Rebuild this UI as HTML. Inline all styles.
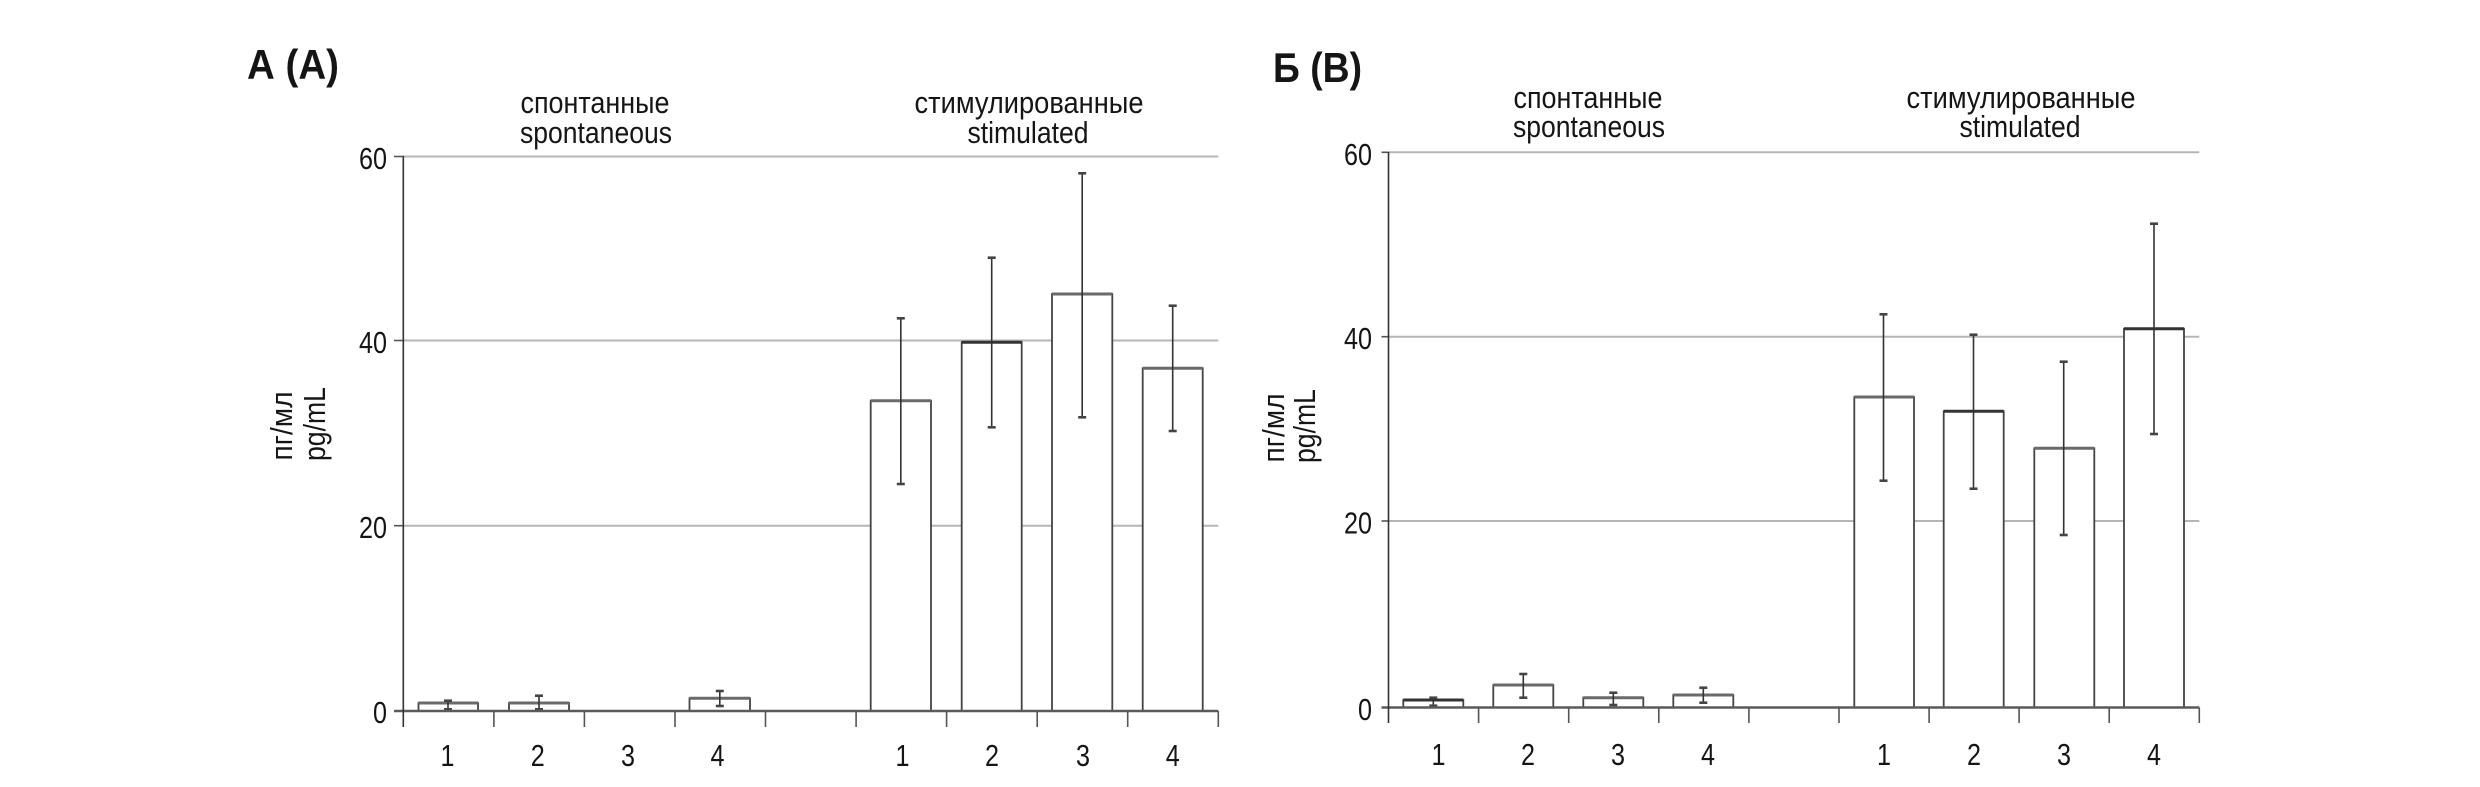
<!DOCTYPE html>
<html>
<head>
<meta charset="utf-8">
<style>
  html, body { margin: 0; padding: 0; background: #ffffff; }
  svg { display: block; }
  text { font-family: "Liberation Sans", "DejaVu Sans", sans-serif; fill: #151515; }
  .t { font-size: 31px; }
  .title { font-size: 42px; font-weight: bold; }
  .grid { stroke: #b5b5b5; stroke-width: 2; }
  .zero { stroke: #5a5a5a; stroke-width: 2.5; }
  .axis { stroke: #333; stroke-width: 1.6; }
  .tick { stroke: #555; stroke-width: 1.6; }
  .bar { fill: #fff; stroke: #444; stroke-width: 1.8; }
  .bartop { stroke: #6a6a6a; stroke-width: 3; }
  .err { stroke: #333; stroke-width: 1.6; }
  .cap { stroke: #444; stroke-width: 2.6; }
</style>
</head>
<body>
<svg width="2480" height="787" viewBox="0 0 2480 787" xmlns="http://www.w3.org/2000/svg">
  <rect x="0" y="0" width="2480" height="787" fill="#fff"/>

  <!-- ================= LEFT CHART ================= -->
  <text class="title" x="247" y="79" textLength="92" lengthAdjust="spacingAndGlyphs">А (A)</text>

  <text class="t" x="595" y="113" text-anchor="middle" textLength="149" lengthAdjust="spacingAndGlyphs">спонтанные</text>
  <text class="t" x="596" y="143" text-anchor="middle" textLength="152" lengthAdjust="spacingAndGlyphs">spontaneous</text>
  <text class="t" x="1029" y="113" text-anchor="middle" textLength="229" lengthAdjust="spacingAndGlyphs">стимулированные</text>
  <text class="t" x="1028" y="143" text-anchor="middle" textLength="121" lengthAdjust="spacingAndGlyphs">stimulated</text>

  <!-- gridlines -->
  <line class="grid" x1="403" y1="156.5" x2="1218.3" y2="156.5"/>
  <line class="grid" x1="403" y1="340.5" x2="1218.3" y2="340.5"/>
  <line class="grid" x1="403" y1="525.7" x2="1218.3" y2="525.7"/>

  <!-- y ticks -->
  <line class="tick" x1="394" y1="156.5" x2="403.3" y2="156.5"/>
  <line class="tick" x1="394" y1="340.5" x2="403.3" y2="340.5"/>
  <line class="tick" x1="394" y1="525.7" x2="403.3" y2="525.7"/>

  <!-- y tick labels -->
  <text class="t" x="387" y="169" text-anchor="end" textLength="28" lengthAdjust="spacingAndGlyphs">60</text>
  <text class="t" x="387" y="353" text-anchor="end" textLength="28" lengthAdjust="spacingAndGlyphs">40</text>
  <text class="t" x="387" y="538" text-anchor="end" textLength="28" lengthAdjust="spacingAndGlyphs">20</text>
  <text class="t" x="387" y="723" text-anchor="end" textLength="14" lengthAdjust="spacingAndGlyphs">0</text>

  <!-- y axis title -->
  <text class="t" transform="translate(292,426) rotate(-90)" text-anchor="middle" textLength="69" lengthAdjust="spacingAndGlyphs">пг/мл</text>
  <text class="t" transform="translate(325,424) rotate(-90)" text-anchor="middle" textLength="74" lengthAdjust="spacingAndGlyphs">pg/mL</text>

  <!-- bars left: spontaneous -->
  <rect class="bar" x="418.5" y="703" width="59.5" height="8"/>
  <line class="bartop" x1="418.5" y1="703" x2="478" y2="703"/>
  <rect class="bar" x="509" y="703" width="60" height="8"/>
  <line class="bartop" x1="509" y1="703" x2="569" y2="703"/>
  <rect class="bar" x="689.5" y="698.3" width="60.5" height="12.7"/>
  <line class="bartop" x1="689.5" y1="698.3" x2="750" y2="698.3"/>

  <!-- bars left: stimulated -->
  <rect class="bar" x="870.7" y="400.7" width="60.3" height="310.3"/>
  <line class="bartop" x1="870.7" y1="400.7" x2="931" y2="400.7"/>
  <rect class="bar" x="961.7" y="342.3" width="60" height="368.7"/>
  <line class="bartop" x1="961.7" y1="342.3" x2="1021.7" y2="342.3" style="stroke:#333"/>
  <rect class="bar" x="1052" y="294" width="60.3" height="417"/>
  <line class="bartop" x1="1052" y1="294" x2="1112.3" y2="294"/>
  <rect class="bar" x="1142.7" y="368.3" width="60" height="342.7"/>
  <line class="bartop" x1="1142.7" y1="368.3" x2="1202.7" y2="368.3"/>

  <!-- error bars left -->
  <g>
    <line class="err" x1="448" y1="700.7" x2="448" y2="709.3"/>
    <line class="cap" x1="444" y1="700.7" x2="452" y2="700.7"/>
    <line class="cap" x1="444" y1="709.3" x2="452" y2="709.3"/>

    <line class="err" x1="539" y1="695.7" x2="539" y2="709.3"/>
    <line class="cap" x1="535" y1="695.7" x2="543" y2="695.7"/>
    <line class="cap" x1="535" y1="709.3" x2="543" y2="709.3"/>

    <line class="err" x1="719.8" y1="691" x2="719.8" y2="706"/>
    <line class="cap" x1="715.8" y1="691" x2="723.8" y2="691"/>
    <line class="cap" x1="715.8" y1="706" x2="723.8" y2="706"/>

    <line class="err" x1="900.8" y1="318.3" x2="900.8" y2="484"/>
    <line class="cap" x1="896.8" y1="318.3" x2="904.8" y2="318.3"/>
    <line class="cap" x1="896.8" y1="484" x2="904.8" y2="484"/>

    <line class="err" x1="991.7" y1="257.7" x2="991.7" y2="427.3"/>
    <line class="cap" x1="987.7" y1="257.7" x2="995.7" y2="257.7"/>
    <line class="cap" x1="987.7" y1="427.3" x2="995.7" y2="427.3"/>

    <line class="err" x1="1082.2" y1="173.3" x2="1082.2" y2="417.3"/>
    <line class="cap" x1="1078.2" y1="173.3" x2="1086.2" y2="173.3"/>
    <line class="cap" x1="1078.2" y1="417.3" x2="1086.2" y2="417.3"/>

    <line class="err" x1="1172.7" y1="305.7" x2="1172.7" y2="431"/>
    <line class="cap" x1="1168.7" y1="305.7" x2="1176.7" y2="305.7"/>
    <line class="cap" x1="1168.7" y1="431" x2="1176.7" y2="431"/>
  </g>

  <!-- zero line, axis, category ticks -->
  <line class="zero" x1="394" y1="711" x2="1218.3" y2="711"/>
  <line class="axis" x1="403.3" y1="156" x2="403.3" y2="727"/>
  <g class="tick">
    <line x1="493.9" y1="711" x2="493.9" y2="727"/>
    <line x1="584.4" y1="711" x2="584.4" y2="727"/>
    <line x1="675" y1="711" x2="675" y2="727"/>
    <line x1="765.5" y1="711" x2="765.5" y2="727"/>
    <line x1="856.1" y1="711" x2="856.1" y2="727"/>
    <line x1="946.6" y1="711" x2="946.6" y2="727"/>
    <line x1="1037.2" y1="711" x2="1037.2" y2="727"/>
    <line x1="1127.7" y1="711" x2="1127.7" y2="727"/>
    <line x1="1218.3" y1="711" x2="1218.3" y2="727"/>
  </g>

  <!-- category labels left -->
  <g>
    <text class="t" x="447.5" y="766" text-anchor="middle" textLength="14" lengthAdjust="spacingAndGlyphs">1</text>
    <text class="t" x="537.8" y="766" text-anchor="middle" textLength="14" lengthAdjust="spacingAndGlyphs">2</text>
    <text class="t" x="628" y="766" text-anchor="middle" textLength="14" lengthAdjust="spacingAndGlyphs">3</text>
    <text class="t" x="717.5" y="766" text-anchor="middle" textLength="14" lengthAdjust="spacingAndGlyphs">4</text>
    <text class="t" x="902.5" y="766" text-anchor="middle" textLength="14" lengthAdjust="spacingAndGlyphs">1</text>
    <text class="t" x="992" y="766" text-anchor="middle" textLength="14" lengthAdjust="spacingAndGlyphs">2</text>
    <text class="t" x="1083" y="766" text-anchor="middle" textLength="14" lengthAdjust="spacingAndGlyphs">3</text>
    <text class="t" x="1172.7" y="766" text-anchor="middle" textLength="14" lengthAdjust="spacingAndGlyphs">4</text>
  </g>

  <!-- ================= RIGHT CHART ================= -->
  <text class="title" x="1273" y="82" textLength="89" lengthAdjust="spacingAndGlyphs">Б (B)</text>

  <text class="t" x="1588" y="108" text-anchor="middle" textLength="149" lengthAdjust="spacingAndGlyphs">спонтанные</text>
  <text class="t" x="1589" y="137" text-anchor="middle" textLength="152" lengthAdjust="spacingAndGlyphs">spontaneous</text>
  <text class="t" x="2021" y="108" text-anchor="middle" textLength="229" lengthAdjust="spacingAndGlyphs">стимулированные</text>
  <text class="t" x="2020" y="137" text-anchor="middle" textLength="121" lengthAdjust="spacingAndGlyphs">stimulated</text>

  <!-- gridlines -->
  <line class="grid" x1="1388.5" y1="152.3" x2="2199.3" y2="152.3"/>
  <line class="grid" x1="1388.5" y1="336.7" x2="2199.3" y2="336.7"/>
  <line class="grid" x1="1388.5" y1="521" x2="2199.3" y2="521"/>

  <!-- y ticks -->
  <line class="tick" x1="1381.5" y1="152.3" x2="1388.5" y2="152.3"/>
  <line class="tick" x1="1381.5" y1="336.7" x2="1388.5" y2="336.7"/>
  <line class="tick" x1="1381.5" y1="521" x2="1388.5" y2="521"/>

  <!-- y tick labels -->
  <text class="t" x="1372" y="165" text-anchor="end" textLength="28" lengthAdjust="spacingAndGlyphs">60</text>
  <text class="t" x="1372" y="349" text-anchor="end" textLength="28" lengthAdjust="spacingAndGlyphs">40</text>
  <text class="t" x="1372" y="533.5" text-anchor="end" textLength="28" lengthAdjust="spacingAndGlyphs">20</text>
  <text class="t" x="1372" y="720" text-anchor="end" textLength="14" lengthAdjust="spacingAndGlyphs">0</text>

  <!-- y axis title -->
  <text class="t" transform="translate(1284,428) rotate(-90)" text-anchor="middle" textLength="69" lengthAdjust="spacingAndGlyphs">пг/мл</text>
  <text class="t" transform="translate(1315,426) rotate(-90)" text-anchor="middle" textLength="74" lengthAdjust="spacingAndGlyphs">pg/mL</text>

  <!-- bars right: spontaneous -->
  <rect class="bar" x="1403.3" y="700" width="60" height="7.5"/>
  <line class="bartop" x1="1403.3" y1="700" x2="1463.3" y2="700" style="stroke:#333"/>
  <rect class="bar" x="1493.3" y="685" width="60" height="22.5"/>
  <line class="bartop" x1="1493.3" y1="685" x2="1553.3" y2="685"/>
  <rect class="bar" x="1583.3" y="697.7" width="60" height="9.8"/>
  <line class="bartop" x1="1583.3" y1="697.7" x2="1643.3" y2="697.7"/>
  <rect class="bar" x="1673.3" y="695" width="60" height="12.5"/>
  <line class="bartop" x1="1673.3" y1="695" x2="1733.3" y2="695"/>

  <!-- bars right: stimulated -->
  <rect class="bar" x="1854.3" y="397" width="59.7" height="310.5"/>
  <line class="bartop" x1="1854.3" y1="397" x2="1914" y2="397"/>
  <rect class="bar" x="1943.7" y="411.3" width="60" height="296.2"/>
  <line class="bartop" x1="1943.7" y1="411.3" x2="2003.7" y2="411.3" style="stroke:#333"/>
  <rect class="bar" x="2034.3" y="448.3" width="60" height="259.2"/>
  <line class="bartop" x1="2034.3" y1="448.3" x2="2094.3" y2="448.3"/>
  <rect class="bar" x="2124" y="328.7" width="60" height="378.8"/>
  <line class="bartop" x1="2124" y1="328.7" x2="2184" y2="328.7" style="stroke:#333"/>

  <!-- error bars right -->
  <g>
    <line class="err" x1="1433.3" y1="697.7" x2="1433.3" y2="705.7"/>
    <line class="cap" x1="1429.3" y1="697.7" x2="1437.3" y2="697.7"/>
    <line class="cap" x1="1429.3" y1="705.7" x2="1437.3" y2="705.7"/>

    <line class="err" x1="1523.3" y1="674" x2="1523.3" y2="697.7"/>
    <line class="cap" x1="1519.3" y1="674" x2="1527.3" y2="674"/>
    <line class="cap" x1="1519.3" y1="697.7" x2="1527.3" y2="697.7"/>

    <line class="err" x1="1613.3" y1="692.7" x2="1613.3" y2="705"/>
    <line class="cap" x1="1609.3" y1="692.7" x2="1617.3" y2="692.7"/>
    <line class="cap" x1="1609.3" y1="705" x2="1617.3" y2="705"/>

    <line class="err" x1="1703.3" y1="687.7" x2="1703.3" y2="702.7"/>
    <line class="cap" x1="1699.3" y1="687.7" x2="1707.3" y2="687.7"/>
    <line class="cap" x1="1699.3" y1="702.7" x2="1707.3" y2="702.7"/>

    <line class="err" x1="1883.5" y1="314.3" x2="1883.5" y2="480.7"/>
    <line class="cap" x1="1879.5" y1="314.3" x2="1887.5" y2="314.3"/>
    <line class="cap" x1="1879.5" y1="480.7" x2="1887.5" y2="480.7"/>

    <line class="err" x1="1973.5" y1="334.7" x2="1973.5" y2="488.7"/>
    <line class="cap" x1="1969.5" y1="334.7" x2="1977.5" y2="334.7"/>
    <line class="cap" x1="1969.5" y1="488.7" x2="1977.5" y2="488.7"/>

    <line class="err" x1="2063.7" y1="361.7" x2="2063.7" y2="535"/>
    <line class="cap" x1="2059.7" y1="361.7" x2="2067.7" y2="361.7"/>
    <line class="cap" x1="2059.7" y1="535" x2="2067.7" y2="535"/>

    <line class="err" x1="2154" y1="223.7" x2="2154" y2="434"/>
    <line class="cap" x1="2150" y1="223.7" x2="2158" y2="223.7"/>
    <line class="cap" x1="2150" y1="434" x2="2158" y2="434"/>
  </g>

  <!-- zero line, axis, category ticks -->
  <line class="zero" x1="1381.5" y1="707.5" x2="2199.3" y2="707.5"/>
  <line class="axis" x1="1388.5" y1="152" x2="1388.5" y2="723"/>
  <g class="tick">
    <line x1="1478.6" y1="707.5" x2="1478.6" y2="723"/>
    <line x1="1568.7" y1="707.5" x2="1568.7" y2="723"/>
    <line x1="1658.8" y1="707.5" x2="1658.8" y2="723"/>
    <line x1="1748.9" y1="707.5" x2="1748.9" y2="723"/>
    <line x1="1839" y1="707.5" x2="1839" y2="723"/>
    <line x1="1929.1" y1="707.5" x2="1929.1" y2="723"/>
    <line x1="2019.1" y1="707.5" x2="2019.1" y2="723"/>
    <line x1="2109.2" y1="707.5" x2="2109.2" y2="723"/>
    <line x1="2199.3" y1="707.5" x2="2199.3" y2="723"/>
  </g>

  <!-- category labels right -->
  <g>
    <text class="t" x="1438.5" y="765" text-anchor="middle" textLength="14" lengthAdjust="spacingAndGlyphs">1</text>
    <text class="t" x="1528" y="765" text-anchor="middle" textLength="14" lengthAdjust="spacingAndGlyphs">2</text>
    <text class="t" x="1618" y="765" text-anchor="middle" textLength="14" lengthAdjust="spacingAndGlyphs">3</text>
    <text class="t" x="1708" y="765" text-anchor="middle" textLength="14" lengthAdjust="spacingAndGlyphs">4</text>
    <text class="t" x="1884" y="765" text-anchor="middle" textLength="14" lengthAdjust="spacingAndGlyphs">1</text>
    <text class="t" x="1974" y="765" text-anchor="middle" textLength="14" lengthAdjust="spacingAndGlyphs">2</text>
    <text class="t" x="2064" y="765" text-anchor="middle" textLength="14" lengthAdjust="spacingAndGlyphs">3</text>
    <text class="t" x="2154" y="765" text-anchor="middle" textLength="14" lengthAdjust="spacingAndGlyphs">4</text>
  </g>
</svg>
</body>
</html>
